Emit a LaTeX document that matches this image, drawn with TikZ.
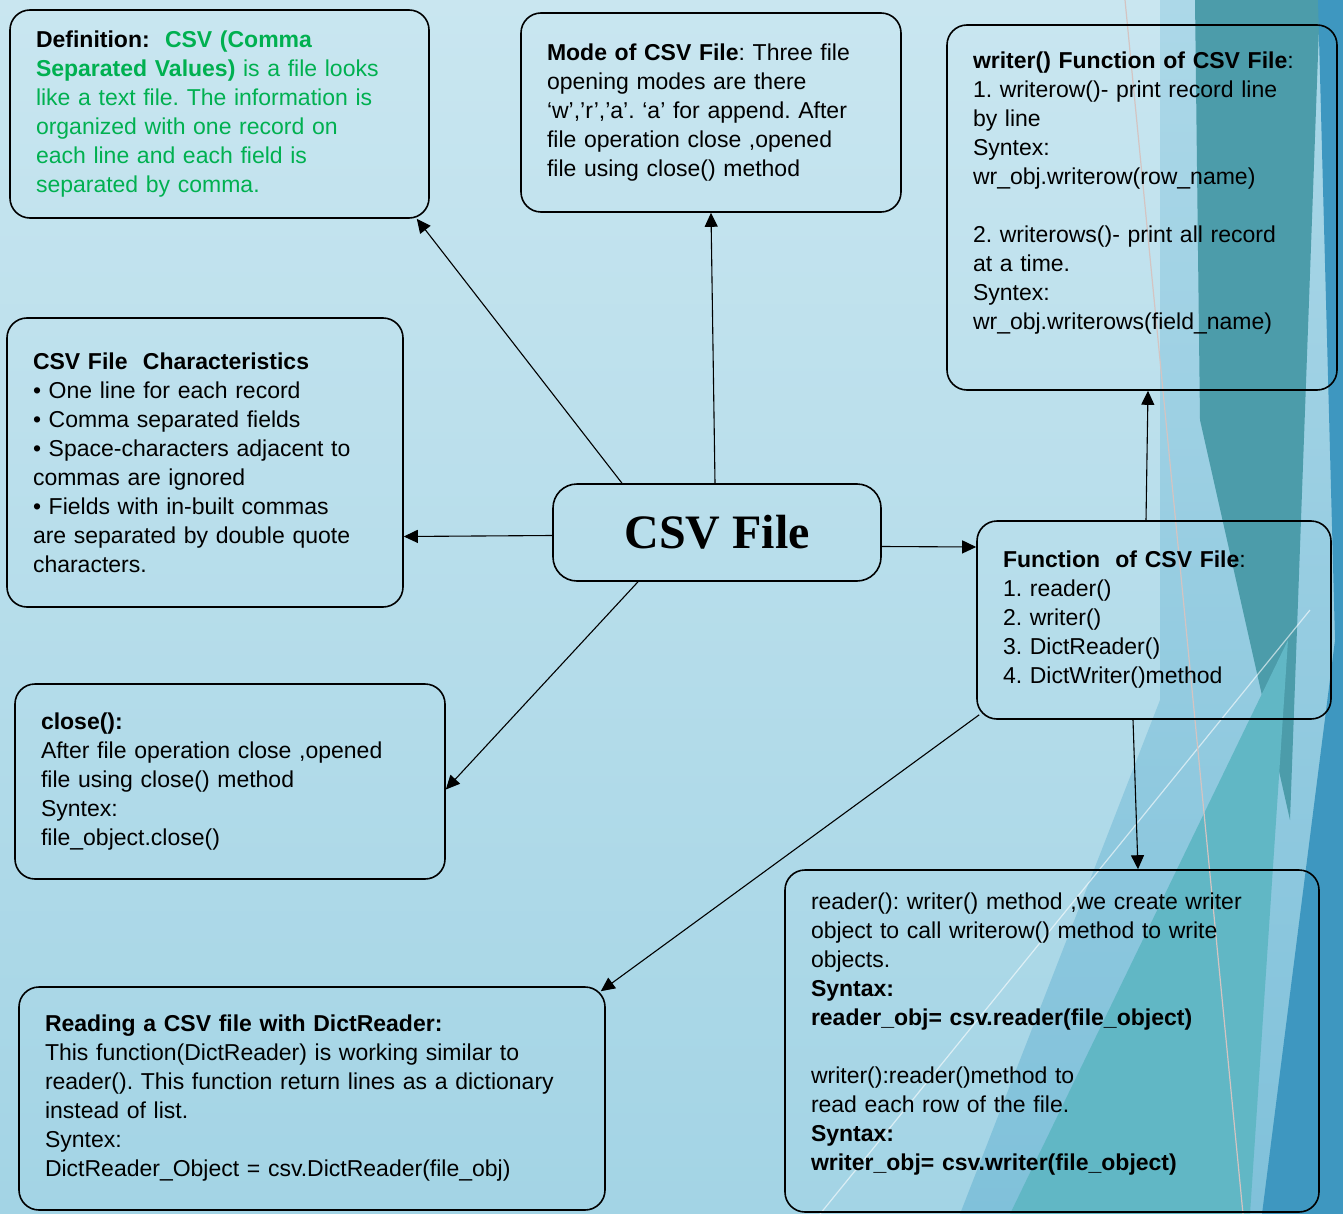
\documentclass[tikz,border=0pt]{standalone}
\usepackage{fontspec}
\setmainfont{Liberation Sans}[WordSpace=0.75]
\newfontfamily\titlefont{Liberation Serif}
\usepackage{tikz}
\usetikzlibrary{arrows.meta}
\usetikzlibrary{calc}

\definecolor{csvgreen}{RGB}{0,176,80}
\definecolor{bgtop}{RGB}{201,230,240}
\definecolor{bgbottom}{RGB}{163,212,229}
\definecolor{facetpale}{RGB}{172,216,232}
\definecolor{facetmid}{RGB}{128,193,218}
\definecolor{facetteal}{RGB}{76,156,170}
\definecolor{facetcyan}{RGB}{97,183,197}
\definecolor{facetblue}{RGB}{62,151,192}
\definecolor{faintline}{RGB}{212,196,194}
\newcommand{\padbelow}[1]{\rule[-#1]{0pt}{#1}}
\frenchspacing

\begin{document}
\begin{tikzpicture}[x=0.5pt,y=-0.5pt,
	box/.style 2 args={draw,thick,rounded corners=10pt,align=left,inner xsep=13pt,
		text width=#1,minimum height=#2,font=\fontsize{11.5}{14.5}\selectfont},
	hubbox/.style={draw,thick,rounded corners=12pt,minimum width=164pt,minimum height=48.5pt,
		font=\titlefont\bfseries\fontsize{24}{29}\selectfont},
	arrow/.style={-{Triangle[length=7pt,width=6.5pt]},line width=0.55pt}]
	\useasboundingbox (0,0) rectangle (1343,1214);
	\shade[top color=bgtop,bottom color=bgbottom] (0,0) rectangle (1343,1214);
	\shade[top color=facetpale,bottom color=facetmid] (1160,0) -- (1343,0) -- (1343,1214) -- (960,1214) -- (1160,700) -- cycle;
	\fill[facetteal] (1195,0) -- (1320,0) -- (1290,820) -- (1200,420) -- cycle;
	\fill[facetcyan] (1010,1214) -- (1288,640) -- (1250,1214) -- cycle;
	\fill[facetblue] (1318,0) -- (1343,0) -- (1343,1214) -- (1262,1214) -- (1335,640) -- cycle;
	\draw[white,opacity=0.6,line width=0.6pt] (820,1214) -- (1310,610);
	\draw[faintline,line width=0.6pt] (1125,0) -- (1243,1214);

	\node[hubbox] (hub) at (717,532.5) {CSV File};
	\node[box={183.5pt}{104pt},text=csvgreen] (defn) at (219.5,114) {%
		{\color{black}\textbf{Definition:}}\ \ \textbf{CSV (Comma}\\
		\textbf{Separated Values)} is a file looks\\
		like a text file. The information is\\
		organized with one record on\\
		each line and each field is\\
		separated by comma.};
	\node[box={164pt}{99.5pt}] (mode) at (711,112.5) {%
		\textbf{Mode of CSV File}: Three file\\
		opening modes are there\\
		‘w’,’r’,’a’. ‘a’ for append. After\\
		file operation close ,opened\\
		file using close() method};
	\node[box={169pt}{182.5pt}] (writer) at (1142,207.5) {%
		\textbf{writer() Function of CSV File}:\\
		1. writerow()- print record line\\
		by line\\
		Syntex:\\
		wr\_obj.writerow(row\_name)\\[14.5pt]
		2. writerows()- print all record\\
		at a time.\\
		Syntex:\\
		wr\_obj.writerows(field\_name)\padbelow{17pt}};
	\node[box={172pt}{144.5pt}] (chars) at (205,462.5) {%
		\textbf{CSV File\ \ Characteristics}\\
		• One line for each record\\
		• Comma separated fields\\
		• Space-characters adjacent to\\
		commas are ignored\\
		• Fields with in-built commas\\
		are separated by double quote\\
		characters.};
	\node[box={151pt}{99pt}] (func) at (1154,620) {%
		\textbf{Function\ \ of CSV File}:\\
		1. reader()\\
		2. writer()\\
		3. DictReader()\\
		4. DictWriter()method};
	\node[box={189pt}{97.5pt}] (close) at (230,781.5) {%
		\textbf{close():}\\
		After file operation close ,opened\\
		file using close() method\\
		Syntex:\\
		file\_object.close()};
	\node[box={241pt}{171pt}] (reader) at (1052,1041) {%
		reader(): writer() method ,we create writer\\
		object to call writerow() method to write\\
		objects.\\
		\textbf{Syntax:}\\
		\textbf{reader\_obj= csv.reader(file\_object)}\\[14.5pt]
		writer():reader()method to\\
		read each row of the file.\\
		\textbf{Syntax:}\\
		\textbf{writer\_obj= csv.writer(file\_object)}\padbelow{9.5pt}};
	\node[box={267pt}{111.5pt}] (dict) at (312,1098.5) {%
		\textbf{Reading a CSV file with DictReader:}\\
		This function(DictReader) is working similar to\\
		reader(). This function return lines as a dictionary\\
		instead of list.\\
		Syntex:\\
		DictReader\_Object = csv.DictReader(file\_obj)};

	\draw[arrow] ([xshift=-47.5pt]hub.north) -- ([xshift=-6.5pt]defn.south east);
	\draw[arrow] ([xshift=-1pt]hub.north) -- (mode.south);
	\draw[arrow] ([yshift=-1.5pt]hub.west) -- ([yshift=-37pt]chars.east);
	\draw[arrow] ([yshift=-7pt]hub.east) -- ([yshift=36.5pt]func.west);
	\draw[arrow] ([xshift=-39.5pt]hub.south) -- ([yshift=-4pt]close.east);
	\draw[arrow] ([xshift=-4pt]func.north) -- ([xshift=3pt]writer.south);
	\draw[arrow] ([xshift=-10.5pt]func.south) -- ([xshift=43pt]reader.north);
	\draw[arrow] ([xshift=1.5pt,yshift=2.5pt]func.south west) -- ([xshift=-2.5pt,yshift=-2.5pt]dict.north east);
\end{tikzpicture}
\end{document}
